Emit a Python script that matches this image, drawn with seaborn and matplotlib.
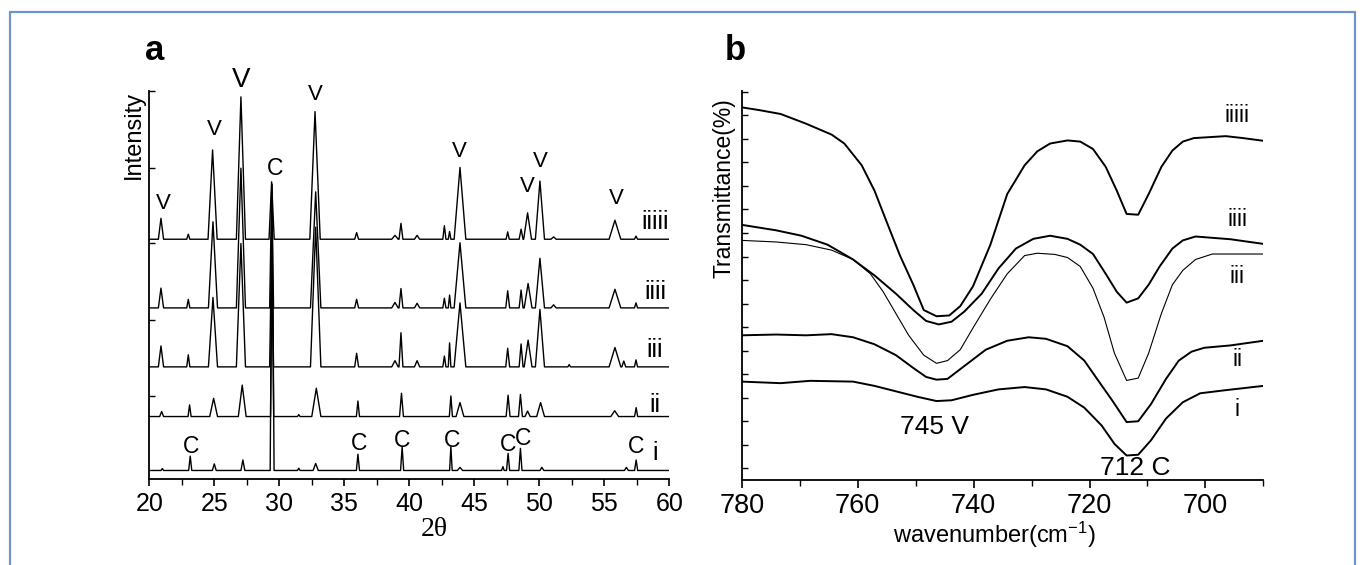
import numpy as np
import pandas as pd
import matplotlib
matplotlib.use("Agg")
import matplotlib.pyplot as plt
from matplotlib.lines import Line2D
from matplotlib.ticker import MultipleLocator, FixedLocator
import seaborn as sns

# ---- panel a: XRD, peak tables (position, height above baseline, half width)
trace_names = ["i", "ii", "iii", "iiii", "iiiii"]
xrd_offsets = [2.2, 16.1, 28.9, 44.1, 61.8]

pos_i = [21.0, 23.15, 25.0, 27.2, 29.45, 31.5, 32.8, 36.05, 39.45, 43.2, 43.9, 47.2, 47.6, 48.55, 50.2, 56.7, 57.45]
hgt_i = [0.5, 3.7, 1.7, 2.7, 73.8, 0.6, 1.8, 4.2, 6.1, 6.1, 0.8, 1.0, 4.4, 5.7, 0.8, 0.8, 2.7]
wid_i = [0.1, 0.12, 0.15, 0.15, 0.15, 0.1, 0.2, 0.12, 0.12, 0.1, 0.2, 0.1, 0.12, 0.12, 0.15, 0.15, 0.12]

pos_ii = [20.95, 23.1, 24.95, 27.15, 29.45, 31.5, 32.85, 36.05, 39.4, 43.2, 43.9, 47.6, 48.55, 49.1, 50.1, 55.8, 57.45]
hgt_ii = [1.3, 3.0, 4.7, 8.1, 42.9, 0.5, 7.3, 4.0, 6.0, 5.3, 3.6, 5.5, 5.7, 1.4, 3.6, 1.5, 2.3]
wid_ii = [0.15, 0.12, 0.3, 0.3, 0.12, 0.1, 0.35, 0.12, 0.15, 0.12, 0.3, 0.15, 0.15, 0.2, 0.3, 0.3, 0.12]

pos_iii = [20.9, 23.0, 24.9, 27.05, 29.41, 32.8, 35.95, 38.9, 39.36, 40.6, 42.7, 43.1, 43.9, 47.57, 48.6, 49.14, 50.05, 52.3, 55.82, 56.5, 57.44]
hgt_iii = [5.4, 3.1, 17.9, 31.8, 32.0, 36.0, 3.5, 1.6, 8.8, 1.6, 2.8, 6.2, 16.5, 4.8, 5.9, 6.9, 14.8, 0.6, 5.0, 1.5, 1.8]
wid_iii = [0.2, 0.12, 0.35, 0.35, 0.15, 0.4, 0.15, 0.25, 0.15, 0.2, 0.12, 0.1, 0.45, 0.15, 0.15, 0.3, 0.35, 0.1, 0.45, 0.15, 0.12]

pos_iiii = [20.9, 23.0, 24.9, 27.05, 29.41, 32.8, 35.95, 38.9, 39.36, 40.6, 42.7, 43.1, 43.9, 47.57, 48.6, 49.14, 50.05, 51.1, 55.82, 57.44]
hgt_iiii = [5.1, 2.2, 22.2, 36.0, 30.0, 29.9, 2.2, 1.4, 5.0, 1.2, 2.5, 3.3, 16.8, 4.4, 4.6, 6.3, 12.8, 0.8, 4.8, 1.3]
wid_iiii = [0.2, 0.12, 0.35, 0.35, 0.15, 0.4, 0.15, 0.25, 0.15, 0.2, 0.12, 0.1, 0.45, 0.15, 0.15, 0.3, 0.35, 0.2, 0.45, 0.12]

pos_iiiii = [20.9, 23.0, 24.87, 27.05, 29.41, 32.75, 35.95, 38.9, 39.36, 40.6, 42.7, 43.1, 43.9, 47.57, 48.6, 49.1, 50.05, 51.1, 55.82, 57.44]
hgt_iiiii = [5.4, 1.3, 23.0, 36.7, 14.8, 32.9, 1.7, 1.0, 4.1, 1.0, 3.5, 2.0, 18.5, 1.9, 2.6, 6.8, 15.0, 0.6, 4.9, 0.8]
wid_iiiii = [0.2, 0.12, 0.35, 0.35, 0.2, 0.4, 0.15, 0.25, 0.15, 0.2, 0.12, 0.1, 0.45, 0.12, 0.15, 0.3, 0.35, 0.2, 0.45, 0.12]

# phase labels (V = vaterite, C = calcite)
v_x = [21.07, 24.98, 32.75, 43.85, 49.1, 50.05, 55.95]
v_y = [71.0, 90.1, 99.0, 84.4, 75.3, 81.8, 72.3]
c_x = [23.2, 36.1, 39.45, 43.3, 47.6, 48.75, 57.45]
c_y = [8.3, 9.2, 10.0, 10.0, 8.8, 10.5, 8.3]

# ---- panel b: FTIR curves
wn_iiiii = [780, 777, 773.3, 768.9, 764.5, 762.3, 759.3, 757.1, 754.9, 752.7, 750.4, 748.6, 746.4, 744.2, 742.3, 740.1,
            737.1, 734.2, 731.2, 729.0, 726.8, 723.8, 721.6, 719.4, 717.2, 715.3, 713.6, 711.6, 709.8, 707.6, 705.7,
            703.9, 702.0, 696.5, 693.5, 690]
t_iiiii = [95.8, 95.1, 94.1, 91.6, 88.8, 86.5, 80.9, 74.4, 66.0, 57.7, 50.2, 43.7, 42.1, 42.3, 44.7, 49.8,
           60.5, 73.5, 80.9, 84.5, 86.5, 87.3, 87.0, 85.1, 80.5, 74.4, 68.4, 68.2, 73.5, 80.5, 84.7,
           87.0, 87.9, 88.4, 87.9, 87.2]
wn_iiii = [780, 774.1, 769.7, 765.2, 760.8, 757.1, 753.4, 750.4, 748.2, 746.0, 743.8, 741.6, 738.6, 735.7, 732.7,
           729.7, 726.8, 723.8, 721.6, 719.4, 717.2, 715.3, 713.6, 711.6, 709.8, 707.9, 705.7, 703.9, 701.7, 695.7, 690]
t_iiii = [65.6, 64.2, 62.8, 60.5, 56.7, 52.6, 47.9, 43.7, 40.9, 40.0, 40.7, 43.3, 47.9, 54.4, 59.5,
          62.0, 62.8, 62.0, 60.5, 58.1, 53.0, 48.4, 45.6, 46.7, 50.2, 54.9, 59.5, 61.6, 62.6, 61.9, 60.7]
wn_iii = [780, 774.1, 768.9, 764.5, 760.8, 757.8, 755.6, 753.4, 751.2, 748.6, 746.4, 744.5, 742.3, 740.1, 737.1,
          734.2, 731.2, 729.0, 726.0, 723.8, 721.6, 719.4, 717.5, 715.7, 713.6, 711.6, 709.8, 707.6, 705.7, 703.9,
          701.7, 698.8, 690]
t_iii = [61.6, 61.2, 60.5, 59.1, 56.7, 53.0, 48.4, 42.8, 37.2, 32.1, 30.0, 30.7, 33.5, 39.1, 46.5,
         53.0, 57.7, 58.3, 58.0, 57.2, 54.9, 49.3, 41.9, 32.6, 25.6, 26.2, 32.6, 42.8, 50.2, 53.9,
         56.7, 58.1, 58.1]
wn_ii = [780, 774.1, 768.9, 764.5, 760.8, 757.1, 753.4, 750.4, 748.2, 746.4, 744.5, 741.6, 737.9, 734.2, 730.5,
         727.5, 723.8, 720.9, 718.7, 716.1, 713.6, 711.6, 709.4, 706.8, 704.6, 702.4, 700.2, 695.7, 690]
t_ii = [37.2, 37.4, 37.2, 37.5, 36.7, 34.9, 32.1, 28.8, 26.5, 25.8, 26.0, 29.3, 33.5, 35.8, 36.7,
        36.3, 34.4, 30.7, 26.0, 20.5, 14.9, 15.1, 19.5, 26.0, 30.7, 33.0, 34.0, 34.6, 35.8]
wn_i = [780, 773.3, 768.2, 760.8, 757.1, 753.4, 749.7, 746.4, 743.8, 740.1, 735.7, 731.2, 727.5, 723.8, 720.9,
        717.9, 715.7, 713.6, 711.6, 709.4, 706.8, 703.9, 700.9, 696.5, 690]
t_i = [25.3, 24.9, 25.5, 25.3, 24.2, 22.8, 21.4, 20.3, 20.5, 21.9, 23.3, 23.9, 23.3, 21.4, 18.6,
       14.0, 9.3, 6.3, 6.5, 10.2, 15.8, 20.0, 22.3, 23.1, 24.2]
ir_label_y = [18.1, 31.0, 52.4, 66.9, 93.8]


def xrd_trace(offset, pos, hgt, wid):
    xs, ys = [20.0], [offset]
    for p, h, w in zip(pos, hgt, wid):
        xs += [p - w, p, p + w]
        ys += [offset, offset + h, offset]
    xs.append(60.0)
    ys.append(offset)
    return pd.DataFrame({"two_theta": xs, "intensity": ys})


sns.set_theme(style="ticks")
plt.rcParams["font.family"] = ["Liberation Sans", "DejaVu Sans"]
plt.rcParams["mathtext.default"] = "regular"
for key in ("text.color", "axes.labelcolor", "xtick.color", "ytick.color", "axes.edgecolor"):
    plt.rcParams[key] = "black"

fig = plt.figure(figsize=(13.62, 5.65), dpi=100)
ax_a = fig.add_axes([0.1096, 0.1522, 0.3818, 0.6867])
ax_b = fig.add_axes([0.5446, 0.1504, 0.3830, 0.6885])

# panel a
peak_tables = [(pos_i, hgt_i, wid_i), (pos_ii, hgt_ii, wid_ii), (pos_iii, hgt_iii, wid_iii),
               (pos_iiii, hgt_iiii, wid_iiii), (pos_iiiii, hgt_iiiii, wid_iiiii)]
for off, (p, h, w) in zip(xrd_offsets, peak_tables):
    df = xrd_trace(off, p, h, w)
    sns.lineplot(data=df, x="two_theta", y="intensity", ax=ax_a, color="black",
                 lw=1.0, sort=False, estimator=None)

label_y_a = [6.7, 19.1, 33.2, 48.3, 66.3]
for name, ly in zip(trace_names, label_y_a):
    ax_a.text(58.9, ly, name, fontsize=18, ha="center", va="center")
for vx, vy in zip(v_x, v_y):
    ax_a.text(vx, vy, "V", fontsize=16, ha="center", va="center")
ax_a.text(27.05, 102.8, "V", fontsize=20, ha="center", va="center")
ax_a.text(29.67, 80.1, "C", fontsize=16.5, ha="center", va="center")
for cx, cy in zip(c_x, c_y):
    ax_a.text(cx, cy, "C", fontsize=16.5, ha="center", va="center")

ax_a.set_xlim(20, 60)
ax_a.set_ylim(0, 100)
ax_a.xaxis.set_major_locator(MultipleLocator(5))
ax_a.xaxis.set_minor_locator(MultipleLocator(2.5))
ax_a.yaxis.set_major_locator(FixedLocator([21.4, 40.9, 60.7, 80.2, 99.9]))
ax_a.tick_params(axis="x", which="major", direction="out", length=5, width=1.2, labelsize=18, pad=4)
ax_a.tick_params(axis="x", which="minor", direction="out", length=4, width=1.0)
ax_a.tick_params(axis="y", which="major", direction="in", length=4, width=1.0, labelleft=False)
ax_a.set_xlabel("")
ax_a.set_ylabel("")
ax_a.text(0.5475, -0.13, "2θ", transform=ax_a.transAxes, fontsize=20, ha="center", va="center",
          family=["Liberation Serif", "DejaVu Serif"])
ax_a.text(-0.029, 0.887, "Intensity", transform=ax_a.transAxes, rotation=90, fontsize=17,
          ha="center", va="center")

# panel b
ir_curves = [(wn_i, t_i), (wn_ii, t_ii), (wn_iii, t_iii), (wn_iiii, t_iiii), (wn_iiiii, t_iiiii)]
for k, (wn, t) in enumerate(ir_curves):
    sns.lineplot(x=wn, y=t, ax=ax_b, color="black", lw=0.8 if k == 2 else 1.4,
                 sort=False, estimator=None)
for name, ly in zip(trace_names, ir_label_y):
    ax_b.text(694.5, ly, name, fontsize=16.5, ha="center", va="center")
ax_b.text(746.7, 13.6, "745 V", fontsize=19, ha="center", va="center")
ax_b.text(712.1, 3.1, "712 C", fontsize=19, ha="center", va="center")

ax_b.set_xlim(780, 690)
ax_b.set_ylim(0, 100)
ax_b.xaxis.set_major_locator(MultipleLocator(20))
ax_b.xaxis.set_minor_locator(MultipleLocator(10))
ax_b.yaxis.set_major_locator(FixedLocator(list(np.arange(3.0, 100.5, 6.05))))
ax_b.tick_params(axis="x", which="major", direction="out", length=6, width=1.2, labelsize=19.5, pad=3)
ax_b.tick_params(axis="x", which="minor", direction="out", length=4, width=1.0)
ax_b.tick_params(axis="y", which="major", direction="in", length=4, width=1.0, labelleft=False)
ax_b.set_xlabel("")
ax_b.set_ylabel("")
ax_b.text(0.484, -0.14, "wavenumber(cm$^{-1}$)", transform=ax_b.transAxes, fontsize=17,
          ha="center", va="center")
ax_b.text(-0.034, 0.751, "Transmittance(%)", transform=ax_b.transAxes, rotation=90, fontsize=16.5,
          ha="center", va="center")

for ax in (ax_a, ax_b):
    sns.despine(ax=ax)
    for s in ("left", "bottom"):
        ax.spines[s].set_linewidth(1.3)
        ax.spines[s].set_color("black")

# panel letters
fig.text(0.1065, 0.8938, "a", fontsize=25, fontweight="bold", ha="left", va="baseline")
fig.text(0.5323, 0.8938, "b", fontsize=25, fontweight="bold", ha="left", va="baseline")

# blue frame around the figure
frame_col = "#6f94cc"
fig.add_artist(Line2D([0.007, 0.007], [0.0, 0.979], color=frame_col, lw=1.6))
fig.add_artist(Line2D([0.007, 0.9945], [0.979, 0.979], color=frame_col, lw=1.6))
fig.add_artist(Line2D([0.9945, 0.9945], [0.0, 0.979], color=frame_col, lw=1.6))

fig.savefig("out.png", dpi=100)
